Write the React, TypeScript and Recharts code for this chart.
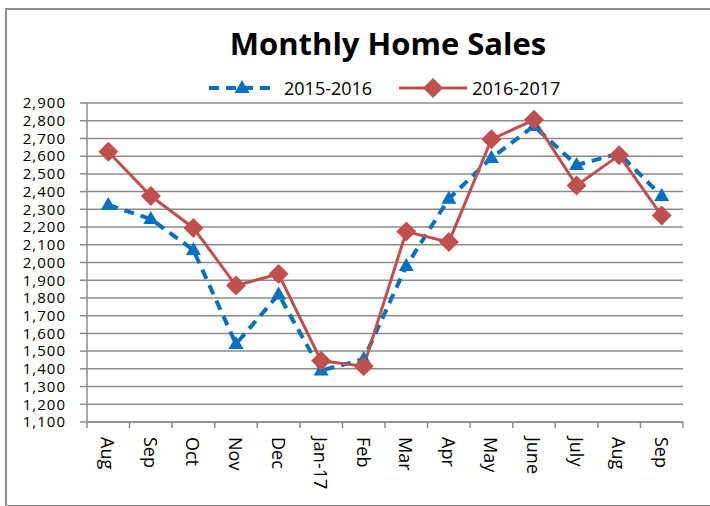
import React from "react";
import { LineChart, Line, XAxis, YAxis, CartesianGrid } from "recharts";

// months on the axis, Aug 2016 .. Sep 2017
const months = ["Aug", "Sep", "Oct", "Nov", "Dec", "Jan-17", "Feb", "Mar", "Apr", "May", "June", "July", "Aug", "Sep"];
const sales1516 = [2325, 2245, 2070, 1540, 1820, 1390, 1455, 1980, 2360, 2590, 2770, 2550, 2615, 2375];
const sales1617 = [2625, 2375, 2195, 1870, 1935, 1445, 1415, 2175, 2115, 2695, 2805, 2435, 2605, 2265];
const yTicks = [1100, 1200, 1300, 1400, 1500, 1600, 1700, 1800, 1900, 2000, 2100, 2200, 2300, 2400, 2500, 2600, 2700, 2800, 2900];

const data = months.map((m, i) => ({ month: m, s1516: sales1516[i], s1617: sales1617[i] }));

const BLUE = "#0070C0";
const RED = "#C0504D";
const GRID = "#8c8c8c";
const FONT = "'Open Sans', sans-serif";

const W = 710;
const H = 506;
const M = { top: 103, right: 27, bottom: 0, left: 0 };
const Y_W = 87;
const PLOT_W = W - M.left - M.right - Y_W;
const BAND = PLOT_W / months.length;

function Triangle({ cx, cy }: any) {
  if (cx == null || cy == null) return null;
  return <polygon points={`${cx},${cy - 8} ${cx + 7.5},${cy + 5} ${cx - 7.5},${cy + 5}`} fill={BLUE} />;
}

function Diamond({ cx, cy }: any) {
  if (cx == null || cy == null) return null;
  return <polygon points={`${cx},${cy - 10} ${cx + 10},${cy} ${cx},${cy + 10} ${cx - 10},${cy}`} fill={RED} />;
}

function MonthTick({ x, y, payload, index }: any) {
  const left = x - BAND / 2;
  return (
    <g>
      <line x1={left} x2={left} y1={y} y2={y + 6} stroke={GRID} strokeWidth={1.5} />
      {index === months.length - 1 && (
        <line x1={x + BAND / 2} x2={x + BAND / 2} y1={y} y2={y + 6} stroke={GRID} strokeWidth={1.5} />
      )}
      <text
        transform={`translate(${x},${y + 15}) rotate(90)`}
        textAnchor="start"
        dominantBaseline="central"
        fontFamily={FONT}
        fontSize={18}
        fill="#000"
      >
        {payload.value}
      </text>
    </g>
  );
}

function LegendBox() {
  return (
    <div style={{ position: "absolute", left: 207, top: 76, display: "flex", alignItems: "center", fontFamily: FONT, fontSize: 18, color: "#000" }}>
      <svg width={72} height={22}>
        <line x1={2} x2={70} y1={11} y2={11} stroke={BLUE} strokeWidth={4} strokeDasharray="10 7" />
        <Triangle cx={35} cy={11} />
      </svg>
      <span style={{ marginLeft: 5 }}>2015-2016</span>
      <svg width={70} height={22} style={{ marginLeft: 26 }}>
        <line x1={1} x2={69} y1={11} y2={11} stroke={RED} strokeWidth={3} />
        <Diamond cx={35} cy={11} />
      </svg>
      <span style={{ marginLeft: 4 }}>2016-2017</span>
    </div>
  );
}

export default function App() {
  return (
    <div style={{ position: "absolute", left: 0, top: 0, width: W, height: H, overflow: "hidden", background: "#fff" }}>
      <div style={{ position: "absolute", left: 5, top: 8, width: 730, height: 495, border: "2px solid #8c8c8c" }} />
      <div style={{ position: "absolute", left: 0, top: 22, width: 776, textAlign: "center", fontFamily: FONT, fontWeight: 700, fontSize: 31, color: "#000" }}>
        Monthly Home Sales
      </div>
      <LegendBox />
      <div style={{ position: "absolute", left: 0, top: 0 }}>
        <LineChart width={W} height={H} data={data} margin={M}>
          <CartesianGrid vertical={false} stroke={GRID} strokeWidth={1.5} />
          <XAxis
            dataKey="month"
            interval={0}
            height={84}
            padding={{ left: BAND / 2, right: BAND / 2 }}
            tickSize={0}
            tickMargin={0}
            tickLine={false}
            axisLine={{ stroke: GRID, strokeWidth: 1.5 }}
            tick={<MonthTick />}
          />
          <YAxis
            width={Y_W}
            domain={[1100, 2900]}
            ticks={yTicks}
            interval={0}
            tickSize={7}
            tickMargin={14}
            tickLine={{ stroke: GRID, strokeWidth: 1.5 }}
            axisLine={{ stroke: GRID, strokeWidth: 1.5 }}
            tick={{ fill: "#000", fontSize: 15, fontFamily: FONT, letterSpacing: 1 }}
            tickFormatter={(v) => v.toLocaleString("en-US")}
          />
          <Line
            dataKey="s1516"
            stroke={BLUE}
            strokeWidth={4}
            strokeDasharray="10 7"
            dot={(p: any) => <Triangle key={`t${p.index}`} cx={p.cx} cy={p.cy} />}
            isAnimationActive={false}
          />
          <Line
            dataKey="s1617"
            stroke={RED}
            strokeWidth={3}
            dot={(p: any) => <Diamond key={`d${p.index}`} cx={p.cx} cy={p.cy} />}
            isAnimationActive={false}
          />
        </LineChart>
      </div>
    </div>
  );
}
